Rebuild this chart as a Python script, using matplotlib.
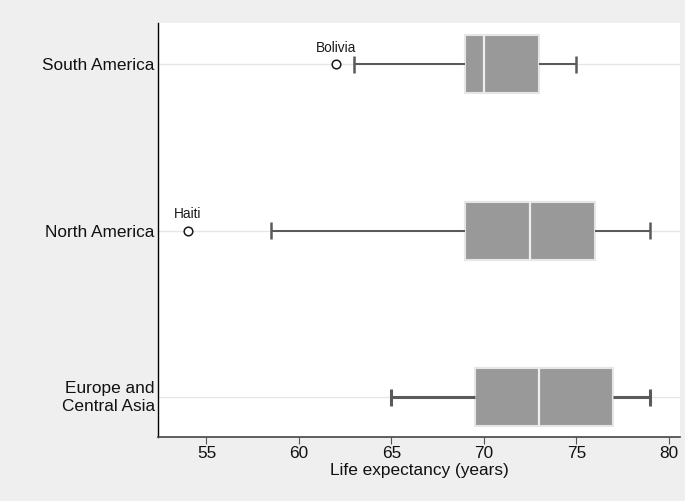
import matplotlib
matplotlib.use("Agg")
import matplotlib.pyplot as plt

# Life expectancy by region (box plot summary)
regions = ["Europe and\nCentral Asia", "North America", "South America"]
q1 = [69.5, 69.0, 69.0]
medians = [73.0, 72.5, 70.0]
q3 = [77.0, 76.0, 73.0]
whisker_lo = [65.0, 58.5, 63.0]
whisker_hi = [79.0, 79.0, 75.0]
outliers = [[], [54.0], [62.0]]
outlier_names = [[], ["Haiti"], ["Bolivia"]]
xticks = [55, 60, 65, 70, 75, 80]

BG = "#efefef"
plt.rcParams["font.family"] = ["Liberation Sans", "DejaVu Sans"]

fig = plt.figure(figsize=(6.85, 5.01), dpi=100, facecolor=BG)
ax = fig.add_axes([158 / 685, 64 / 501, 522 / 685, 414 / 501])
ax.set_facecolor("white")

stats = []
for i in range(len(regions)):
    stats.append({
        "label": regions[i],
        "q1": q1[i], "med": medians[i], "q3": q3[i],
        "whislo": whisker_lo[i], "whishi": whisker_hi[i],
        "fliers": outliers[i],
    })

pos = list(range(len(regions)))
res = ax.bxp(stats, positions=pos, orientation="horizontal", widths=0.348,
             capwidths=0.102, patch_artist=True, showfliers=True,
             boxprops=dict(facecolor="#999999", edgecolor="#e6e6e6", linewidth=1.5),
             medianprops=dict(color="#eeeeee", linewidth=1.6),
             whiskerprops=dict(color="#5a5a5a", linewidth=1.45, solid_capstyle="butt"),
             capprops=dict(color="#5a5a5a", linewidth=1.8, solid_capstyle="butt"),
             flierprops=dict(marker="o", markerfacecolor="white",
                             markeredgecolor="#1a1a1a", markersize=6.2,
                             markeredgewidth=1.1, linestyle="none"))

# Europe whiskers drawn heavier in the original
for ln in res["whiskers"][0:2] + res["caps"][0:2]:
    ln.set_linewidth(2.2)

for i in pos:
    for v, name in zip(outliers[i], outlier_names[i]):
        ax.annotate(name, (v, i), xytext=(0, 9), textcoords="offset points",
                    ha="center", va="baseline", fontsize=9.8, color="#1a1a1a")

ax.set_ylim(-0.237, 2.246)
ax.set_xlim(52.38, 80.6)
ax.set_xticks(xticks)
ax.set_yticks(pos)
ax.set_yticklabels([])
for i in pos:
    multi = "\n" in regions[i]
    ax.text(-0.006, i, regions[i], transform=ax.get_yaxis_transform(),
            ha="right", va="center" if multi else "center_baseline",
            multialignment="right", linespacing=1.3,
            fontsize=12.4, color="#111111")
ax.grid(axis="y", color="#e6e6e6", linewidth=1.0)
ax.set_axisbelow(True)

for s in ["top", "right"]:
    ax.spines[s].set_visible(False)
ax.spines["left"].set_color("black")
ax.spines["left"].set_linewidth(1.0)
ax.spines["bottom"].set_color("#444444")
ax.spines["bottom"].set_linewidth(1.2)

ax.tick_params(axis="y", length=0)
ax.tick_params(axis="x", length=5, width=0.8, color="#555555", pad=1.5,
               labelsize=12.4, labelcolor="#111111")
ax.set_xlabel("Life expectancy (years)", fontsize=12.4, color="#111111", labelpad=1.5)

fig.savefig("out.png", dpi=100, facecolor=BG)
